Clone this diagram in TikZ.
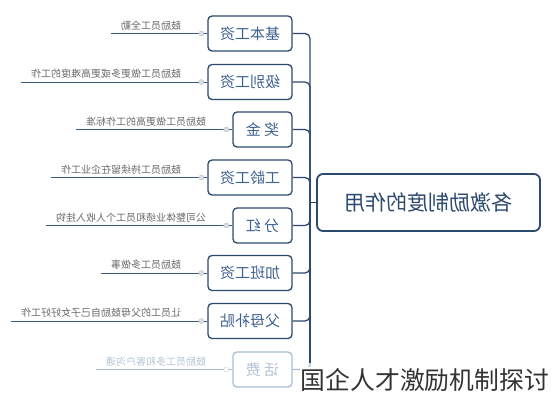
\documentclass[tikz,border=0pt]{standalone}
\usepackage{graphicx}
\usepackage{fontspec}
\newfontfamily\cjk{Noto Sans CJK SC}
\definecolor{navy}{HTML}{2C4A6E}
\definecolor{boxtext}{HTML}{3F6290}
\definecolor{lbltext}{HTML}{6A6A6A}
\definecolor{leafline}{HTML}{3A5A80}
\definecolor{fadeline}{HTML}{A9BDD2}
\definecolor{fadetext}{HTML}{B4C4D4}
\definecolor{dotfill}{HTML}{D8DEE6}
\tikzset{
  kid/.style={draw=navy, line width=1.3pt, rounded corners=4pt, fill=white,
    minimum height=35pt, inner sep=0pt, text=boxtext, font=\cjk\fontsize{15}{15}\selectfont},
  kidwide/.style={kid, minimum width=84pt},
  kidnarrow/.style={kid, minimum width=59pt},
  fadekid/.style={draw=fadeline, text=fadetext},
  hub/.style={draw=navy, line width=1.8pt, rounded corners=6pt, fill=white,
    minimum width=223pt, minimum height=57pt, inner sep=0pt, text=navy,
    font=\cjk\fontsize{21}{21}\selectfont},
  lbl/.style={anchor=south east, inner sep=1pt, text=lbltext, font=\cjk\fontsize{10}{10}\selectfont},
  leaf/.style={draw=leafline, line width=1pt},
  conn/.style={draw=navy, line width=1.3pt, rounded corners=5pt},
  dot/.style={circle, draw=lightgray, fill=dotfill, line width=0.4pt, inner sep=0pt, minimum size=5pt},
}
\newcommand{\mir}[1]{\reflectbox{#1}}
\begin{document}
\begin{tikzpicture}[x=1pt,y=-1pt]
\useasboundingbox (0,0) rectangle (552,400);
% hub
\node[hub] (hub) at (428.5,202.5) {\mir{各激励制度的作用}};
\coordinate (t) at (310,202.5);
% children
\node[kidwide]   (b1) at (250,33.5)  {\mir{基本工资}};
\node[kidwide]   (b2) at (250,82)    {\mir{级别工资}};
\node[kidnarrow] (b3) at (262.5,129.5) {\mir{奖\ 金}};
\node[kidwide]   (b4) at (250,177.5) {\mir{工龄工资}};
\node[kidnarrow] (b5) at (262.5,225.5) {\mir{分\ 红}};
\node[kidwide]   (b6) at (250,273)   {\mir{加班工资}};
\node[kidwide]   (b7) at (250,321)   {\mir{父母补贴}};
\node[kidnarrow,fadekid] (b8) at (262.5,369.5) {\mir{话\ 费}};
% labels
\node[lbl] (l1) at ([xshift=-25pt,yshift=2pt]b1.west) {\mir{鼓励员工全勤}};
\node[lbl] (l2) at ([xshift=-25pt,yshift=2pt]b2.west) {\mir{鼓励员工做更多或更高难度的工作}};
\node[lbl] (l3) at ([xshift=-25pt,yshift=2pt]b3.west) {\mir{鼓励员工做更高的工作标准}};
\node[lbl] (l4) at ([xshift=-25pt,yshift=2pt]b4.west) {\mir{鼓励员工持续留在企业工作}};
\node[lbl] (l5) at ([xshift=-25pt,yshift=2pt]b5.west) {\mir{公司整体业绩和员工个人收入挂钩}};
\node[lbl] (l6) at ([xshift=-25pt,yshift=2pt]b6.west) {\mir{鼓励员工多做事}};
\node[lbl] (l7) at ([xshift=-25pt,yshift=2pt]b7.west) {\mir{让员工的父母鼓励自己子女好好工作}};
\node[lbl,text=fadetext] (l8) at ([xshift=-25pt,yshift=2pt]b8.west) {\mir{鼓励员工多和客户沟通}};
% leaf lines
\foreach \i in {1,...,7} {
  \draw[leaf] ([xshift=-9pt]l\i.west |- b\i.west) -- (b\i.west);
  \node[dot] at ([xshift=-6pt]b\i.west) {};
}
\draw[leaf,draw=fadeline] ([xshift=-9pt]l8.west |- b8.west) -- (b8.west);
\node[dot,draw=fadeline!60,fill=white] at ([xshift=-6pt]b8.west) {};
% connectors
\foreach \i in {1,...,7} {
  \draw[conn] (b\i.east) -| (t);
}
\coordinate (t8) at (310,363);
\draw[conn] (t) -- (t8);
\draw[conn,draw=fadeline] (b8.east) -| (t8);
\draw[conn] (t) -- (hub.west);
% watermark
\node[anchor=east, fill=white, inner sep=1pt, text=black!80, font=\cjk\fontsize{24.8}{25}\selectfont] (wm) at (550,380) {国企人才激励机制探讨};
\end{tikzpicture}
\end{document}
